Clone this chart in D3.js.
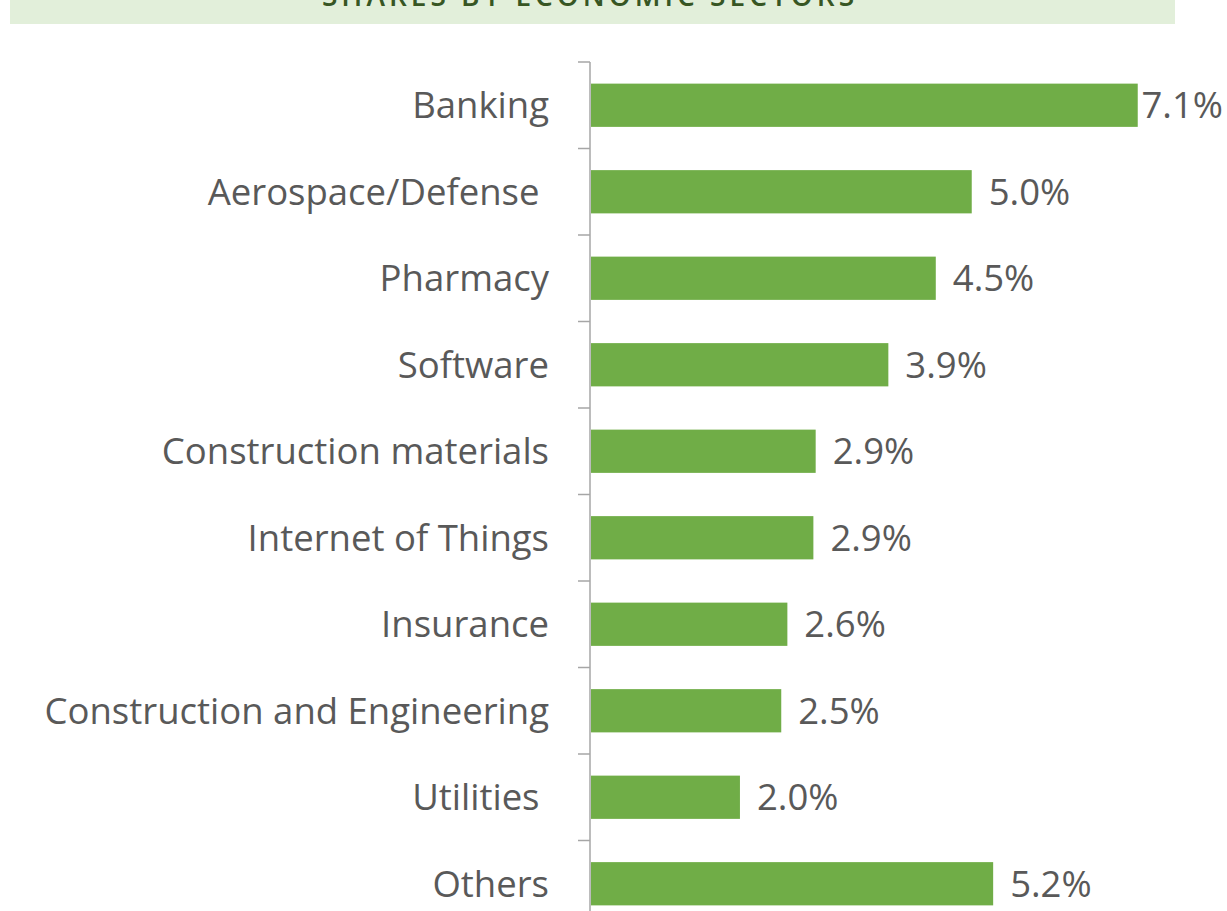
<!DOCTYPE html>
<html>
<head>
<meta charset="utf-8">
<script src="https://cdn.jsdelivr.net/npm/d3@7"></script>
<style>
  body { margin: 0; background: #fff; }
  text { font-family: "Open Sans", Lato, sans-serif; }
</style>
</head>
<body>
<div class="graph"></div>
<script>
// Datos del gráfico
const sectors = [
    "Banking", "Aerospace/Defense ", "Pharmacy", "Software", "Construction materials",
    "Internet of Things", "Insurance", "Construction and Engineering", "Utilities ", "Others"
];
const shares = [7.16, 4.99, 4.52, 3.9, 2.95, 2.92, 2.58, 2.5, 1.96, 5.27];
const shareLabels = ["7.1%", "5.0%", "4.5%", "3.9%", "2.9%", "2.9%", "2.6%", "2.5%", "2.0%", "5.2%"];
const title = "SHARES BY ECONOMIC SECTORS";

const width = 1227;
const height = 911;
const axisX = 590;

const svg = d3.select(".graph")
    .append("svg")
    .attr("width", width)
    .attr("height", height);

// Banda del título (cortada arriba)
svg.append("rect")
    .attr("x", 10).attr("y", 0)
    .attr("width", 1165).attr("height", 24)
    .attr("fill", "#e2efda");

svg.append("text")
    .attr("x", 590).attr("y", 6)
    .attr("text-anchor", "middle")
    .attr("fill", "#375623")
    .style("font-size", "28px")
    .style("font-weight", "600")
    .style("letter-spacing", "4px")
    .text(title);

// Escalas
const yScale = d3.scaleBand()
    .domain(d3.range(sectors.length))
    .range([62, 927])
    .paddingInner(0.5)
    .paddingOuter(0.25);
const xScale = d3.scaleLinear().domain([0, 1]).range([0, 76.5]);

// Eje vertical con marcas entre categorías
const tickY = i => yScale(i) - yScale.step() * 0.25;
const axis = svg.append("g");
axis.append("line")
    .attr("x1", axisX).attr("x2", axisX)
    .attr("y1", 62).attr("y2", height)
    .attr("stroke", "#a6a6a6").attr("stroke-width", 1.5);
axis.selectAll("line.tick")
    .data(d3.range(sectors.length))
    .join("line")
    .attr("class", "tick")
    .attr("x1", axisX - 12).attr("x2", axisX)
    .attr("y1", tickY)
    .attr("y2", tickY)
    .attr("stroke", "#a6a6a6").attr("stroke-width", 1.5);

// Barras
svg.selectAll("rect.bar")
    .data(shares)
    .join("rect")
    .attr("class", "bar")
    .attr("x", axisX + 1)
    .attr("y", (d, i) => yScale(i))
    .attr("width", d => xScale(d) - 1)
    .attr("height", yScale.bandwidth())
    .attr("fill", "#70ad47");

// Etiquetas de categorías
svg.selectAll("text.cat")
    .data(sectors)
    .join("text")
    .attr("class", "cat")
    .attr("x", 549)
    .attr("y", (d, i) => yScale(i) + yScale.bandwidth() / 2)
    .attr("dy", "0.36em")
    .attr("text-anchor", "end")
    .attr("fill", "#595959")
    .style("font-size", "36.5px")
    .style("white-space", "pre")
    .text(d => d);

// Etiquetas de valores
svg.selectAll("text.val")
    .data(shares)
    .join("text")
    .attr("class", "val")
    .attr("y", (d, i) => yScale(i) + yScale.bandwidth() / 2)
    .attr("dy", "0.36em")
    .attr("fill", "#595959")
    .style("font-size", "36.5px")
    .text((d, i) => shareLabels[i])
    .attr("x", function (d) {
        const w = this.getComputedTextLength();
        return Math.min(axisX + xScale(d) + 17, width - 4 - w);
    });
</script>
</body>
</html>
